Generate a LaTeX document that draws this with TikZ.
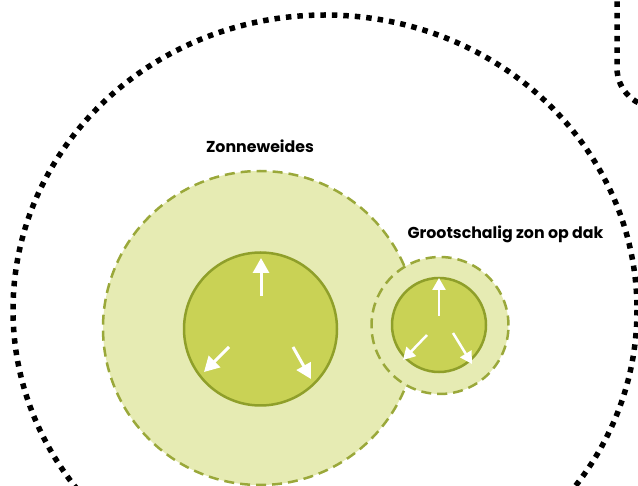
\documentclass[tikz,border=0pt]{standalone}
\usepackage{fontspec}
\setmainfont{Poppins}
\usetikzlibrary{arrows.meta}
\definecolor{lightgreen}{HTML}{E6EBB3}
\definecolor{midgreen}{HTML}{C9D255}
\definecolor{darkolive}{HTML}{8F9F2A}
\definecolor{dasholive}{HTML}{9AA83A}
\tikzset{
  dotborder/.style={draw=black, line width=5.5pt, dash pattern=on 5.5pt off 6pt},
  outerzone/.style={fill=lightgreen, draw=dasholive, line width=2.5pt, dash pattern=on 10pt off 6pt},
  innerzone/.style={fill=midgreen, draw=darkolive, line width=2.5pt},
  bigarrow/.style={draw=white, line width=3pt, -{Triangle[length=15pt,width=16pt]}},
  smallarrow/.style={draw=white, line width=2.5pt, -{Triangle[length=12pt,width=13pt]}},
  label/.style={font=\bfseries\fontsize{15.8}{18}\selectfont, text=black}
}
\begin{document}
\begin{tikzpicture}[x=1pt,y=-1pt]
\useasboundingbox (0,0) rectangle (638,486);
\begin{scope}
\clip (0,0) rectangle (638,486);
% big dotted boundary
\draw[dotborder] (325,310) ellipse [x radius=312, y radius=295];
% top right dotted corner
\draw[dotborder] (617,-10) -- (617,68) .. controls (617,90) and (635,108) .. (660,108);
% Zonneweides zone
\node[outerzone, circle, minimum size=314pt, inner sep=0pt] (zw) at (260,328) {};
\node[innerzone, circle, minimum size=153pt, inner sep=0pt] (zwi) at (260.5,329) {};
% Grootschalig zone
\node[outerzone, circle, minimum size=137pt, inner sep=0pt] (gz) at (440,325.5) {};
\node[innerzone, circle, minimum size=94pt, inner sep=0pt] (gzi) at (439,325) {};
\end{scope}
% arrows big
\coordinate (a1s) at (261,296); \coordinate (a1e) at (261,258);
\coordinate (a2s) at (229,347); \coordinate (a2e) at (204,372);
\coordinate (a3s) at (293,347); \coordinate (a3e) at (311,379);
\draw[bigarrow] (a1s) -- (a1e);
\draw[bigarrow] (a2s) -- (a2e);
\draw[bigarrow] (a3s) -- (a3e);
% arrows small
\coordinate (b1s) at (439,316); \coordinate (b1e) at (439,278);
\coordinate (b2s) at (427,335); \coordinate (b2e) at (403,360);
\coordinate (b3s) at (453,333); \coordinate (b3e) at (472,364);
\draw[smallarrow] (b1s) -- (b1e);
\draw[smallarrow] (b2s) -- (b2e);
\draw[smallarrow] (b3s) -- (b3e);
% labels
\node[label] (lzw) at (260,146) {Zonneweides};
\node[label] (lgz) at (505.5,234) {Grootschalig zon op dak};
\end{tikzpicture}
\end{document}
